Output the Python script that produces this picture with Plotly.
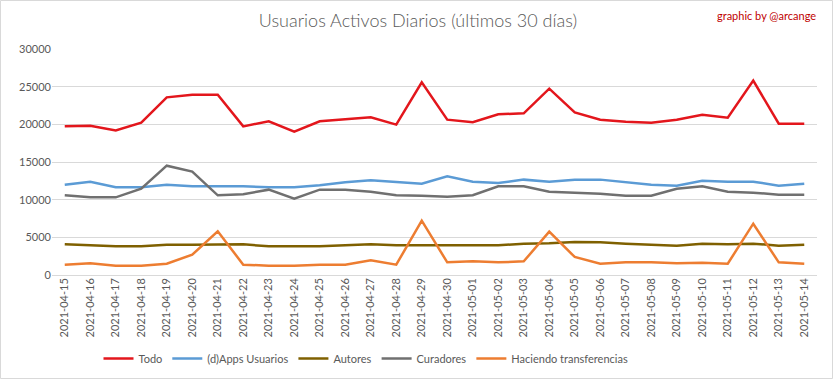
import plotly.graph_objects as go

dates = ["2021-04-15","2021-04-16","2021-04-17","2021-04-18","2021-04-19","2021-04-20","2021-04-21",
         "2021-04-22","2021-04-23","2021-04-24","2021-04-25","2021-04-26","2021-04-27","2021-04-28",
         "2021-04-29","2021-04-30","2021-05-01","2021-05-02","2021-05-03","2021-05-04","2021-05-05",
         "2021-05-06","2021-05-07","2021-05-08","2021-05-09","2021-05-10","2021-05-11","2021-05-12",
         "2021-05-13","2021-05-14"]

todo = [19730, 19820, 19200, 20220, 23580, 23940, 23940, 19730, 20400, 19030,
        20400, 20660, 20930, 19960, 25580, 20620, 20270, 21330, 21460, 24740,
        21590, 20620, 20350, 20220, 20620, 21280, 20890, 25800, 20090, 20090]
dapps = [11990, 12390, 11640, 11640, 11990, 11770, 11770, 11770, 11640, 11640,
         11900, 12300, 12570, 12300, 12120, 13100, 12390, 12210, 12660, 12390,
         12660, 12660, 12350, 11990, 11860, 12520, 12390, 12390, 11860, 12120]
autores = [4070, 3890, 3800, 3800, 4030, 4030, 4070, 4070, 3800, 3800,
           3800, 3940, 4070, 3940, 3940, 3940, 3940, 3940, 4160, 4200,
           4380, 4340, 4160, 4030, 3890, 4160, 4070, 4160, 3890, 4030]
curadores = [10580, 10310, 10310, 11460, 14510, 13720, 10580, 10710, 11330, 10130,
             11330, 11330, 11060, 10580, 10530, 10400, 10580, 11770, 11770, 11060,
             10930, 10800, 10530, 10530, 11460, 11770, 11060, 10930, 10660, 10660]
transfer = [1370, 1550, 1240, 1240, 1500, 2700, 5800, 1370, 1240, 1240,
            1370, 1370, 1950, 1370, 7210, 1680, 1810, 1680, 1810, 5750,
            2390, 1500, 1680, 1680, 1550, 1640, 1500, 6810, 1680, 1500]

series = [
    ("Todo", todo, "#e3161c"),
    ("(d)Apps Usuarios", dapps, "#5b9bd5"),
    ("Autores", autores, "#7f6000"),
    ("Curadores", curadores, "#707070"),
    ("Haciendo transferencias", transfer, "#ed7d31"),
]

fig = go.Figure()
for name, vals, col in series:
    fig.add_trace(go.Scatter(x=dates, y=vals, name=name, mode="lines",
                             line=dict(color=col, width=2.5)))

font = "Lato, 'Open Sans', sans-serif"
fig.update_layout(
    width=833, height=379,
    margin=dict(l=52, r=16, t=49, b=104, autoexpand=False),
    paper_bgcolor="white", plot_bgcolor="white",
    font=dict(family=font, color="#595959", size=11),
    title=dict(text="Usuarios Activos Diarios (últimos 30 días)", x=(418-52)/765, xref="paper",
               xanchor="center", y=1 - 21/379, yanchor="middle",
               font=dict(size=18, color="#595959", family=font, weight=300)),
    showlegend=True,
    legend=dict(orientation="h", x=(366-52)/765, xanchor="center", y=-0.37, yanchor="middle",
                font=dict(size=11, color="#595959"), bgcolor="rgba(0,0,0,0)",
                itemwidth=30, tracegroupgap=0),
    xaxis=dict(type="category", tickangle=-90, showgrid=False, showline=False, zeroline=False,
               ticks="", tickfont=dict(size=11, color="#595959"), range=[-0.5, 29.5],
               automargin=False),
    yaxis=dict(range=[0, 30000], dtick=5000, showgrid=True, gridcolor="#d9d9d9", gridwidth=1,
               zeroline=True, zerolinecolor="#d9d9d9", zerolinewidth=1, showline=False,
               ticks="", tickfont=dict(size=11, color="#595959"), tickformat="d",
               automargin=False),
    annotations=[dict(text="graphic by @arcange", xref="paper", yref="paper",
                      x=(818-52)/765, y=(275-15)/226, xanchor="right", yanchor="middle",
                      showarrow=False, font=dict(size=11, color="#c00000", family=font))],
    shapes=[dict(type="rect", xref="paper", yref="paper",
                 x0=-51.5/765, x1=(832.5-52)/765, y0=(275-378.5)/226, y1=(275-0.5)/226,
                 line=dict(color="#d9d9d9", width=1), fillcolor="rgba(0,0,0,0)", layer="below")],
)

fig.write_html("out.html", config={"displayModeBar": False},
               post_script="document.body.style.margin='0';document.body.style.overflow='hidden';")
